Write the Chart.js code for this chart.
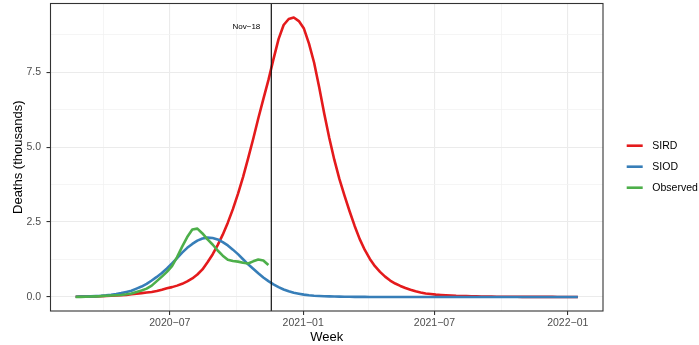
<!DOCTYPE html>
<html>
<head>
<meta charset="utf-8">
<script src="https://cdn.jsdelivr.net/npm/chart.js@4.4.1/dist/chart.umd.min.js"></script>
<style>
  html, body { margin: 0; padding: 0; background: #fff; }
  #wrap { width: 699px; height: 345px; }
</style>
</head>
<body>
<div id="wrap"><canvas id="deathsChart" width="699" height="345"></canvas></div>
<script>
// weekly series, deaths in thousands, first week 2020-02-22
const firstWeek = '2020-02-22';

const sird = [
  0.01, 0.012, 0.015, 0.018, 0.022, 0.027, 0.033, 0.04, 0.05, 0.06,
  0.07, 0.09, 0.11, 0.13, 0.15, 0.17, 0.2, 0.24, 0.29, 0.33,
  0.38, 0.44, 0.52, 0.62, 0.75, 0.92, 1.16, 1.42, 1.73, 2.08,
  2.48, 2.93, 3.44, 4.0, 4.62, 5.27, 5.95, 6.6, 7.23, 7.93,
  8.6, 9.07, 9.27, 9.32, 9.2, 8.95, 8.45, 7.82, 7.0, 6.12,
  5.3, 4.57, 3.93, 3.38, 2.86, 2.37, 1.93, 1.57, 1.27, 1.03,
  0.84, 0.68, 0.55, 0.45, 0.37, 0.3, 0.24, 0.19, 0.15, 0.12,
  0.1, 0.08, 0.07, 0.06, 0.05, 0.04, 0.035, 0.03, 0.025, 0.02,
  0.018, 0.015, 0.013, 0.011, 0.01, 0.009, 0.008, 0.007, 0.006, 0.006,
  0.005, 0.005, 0.004, 0.004, 0.004, 0.003, 0.003, 0.003, 0.003, 0.002
];

const siod = [
  0.01, 0.013, 0.017, 0.022, 0.03, 0.04, 0.055, 0.075, 0.1, 0.13,
  0.17, 0.21, 0.28, 0.35, 0.44, 0.55, 0.67, 0.8, 0.95, 1.12,
  1.3, 1.48, 1.64, 1.77, 1.88, 1.95, 1.98, 1.97, 1.92, 1.83,
  1.72, 1.58, 1.43, 1.26, 1.09, 0.94, 0.79, 0.65, 0.53, 0.42,
  0.33, 0.25, 0.19, 0.14, 0.11, 0.08, 0.06, 0.045, 0.035, 0.025,
  0.02, 0.015, 0.012, 0.01, 0.008, 0.006, 0.005, 0.004, 0.003, 0.003,
  0.002, 0.002, 0.002, 0.001, 0.001, 0.001, 0.001, 0.001, 0, 0,
  0, 0, 0, 0, 0, 0, 0, 0, 0, 0,
  0, 0, 0, 0, 0, 0, 0, 0, 0, 0,
  0, 0, 0, 0, 0, 0, 0, 0, 0, 0
];

const observed = [
  0, 0.005, 0.01, 0.015, 0.02, 0.03, 0.04, 0.05, 0.06, 0.07,
  0.09, 0.12, 0.17, 0.22, 0.28, 0.38, 0.53, 0.68, 0.84, 1.03,
  1.33, 1.68, 2.0, 2.25, 2.28, 2.12, 1.92, 1.75, 1.55, 1.38,
  1.24, 1.2, 1.18, 1.14, 1.12, 1.19, 1.25, 1.22, 1.07
];

const seriesNames = ['SIRD', 'SIOD', 'Observed'];
const seriesColors = ['#E41A1C', '#377EB8', '#4DAF4A'];

const xMajorTicks = ['2020-07-01', '2021-01-01', '2021-07-01', '2022-01-01'];
const yMajorTicks = [0, 2.5, 5, 7.5];

const cutoffDate = '2020-11-18';
const cutoffLabel = 'Nov\u221218';

// ---- helpers ----
const DAY = 864e5;
const t0 = Date.parse(firstWeek);
const weeks = sird.map((_, i) => t0 + i * 7 * DAY);

function toPoints(values) {
  return values.map((v, i) => ({ x: weeks[i], y: v }));
}

// ggplot-like 5% expansion
function expand(lo, hi) {
  const pad = (hi - lo) * 0.05;
  return [lo - pad, hi + pad];
}
const [xMin, xMax] = expand(weeks[0], weeks[weeks.length - 1]);
const allY = sird.concat(siod, observed);
const [yMin, yMax] = expand(Math.min(...allY), Math.max(...allY));

function withMinors(majors, lo, hi) {
  const out = majors.map(v => ({ value: v, minor: false }));
  const step = majors[1] - majors[0];
  const mids = [majors[0] - step / 2];
  for (let i = 0; i < majors.length - 1; i++) mids.push((majors[i] + majors[i + 1]) / 2);
  const lastStep = majors[majors.length - 1] - majors[majors.length - 2];
  mids.push(majors[majors.length - 1] + lastStep / 2);
  mids.filter(v => v >= lo && v <= hi).forEach(v => out.push({ value: v, minor: true }));
  return out.sort((a, b) => a.value - b.value);
}

const xTickObjs = withMinors(xMajorTicks.map(d => Date.parse(d)), xMin, xMax);
const yTickObjs = withMinors(yMajorTicks, yMin, yMax);

function fmtMonth(ts) {
  const d = new Date(ts);
  const m = String(d.getUTCMonth() + 1).padStart(2, '0');
  return d.getUTCFullYear() + '\u2212' + m;
}

const gridStyle = {
  color: ctx => (ctx.tick && ctx.tick.minor) ? '#F2F2F2' : '#EBEBEB',
  lineWidth: ctx => (ctx.tick && ctx.tick.minor) ? 0.8 : 1.1,
  tickColor: ctx => (ctx.tick && ctx.tick.minor) ? 'rgba(0,0,0,0)' : '#333333',
  tickWidth: 1.1,
  tickLength: 4,
  drawTicks: true
};

// border, cutoff line and legend
const extras = {
  id: 'extras',
  afterDatasetsDraw(chart) {
    const { ctx, chartArea: a, scales } = chart;
    const xc = scales.x.getPixelForValue(Date.parse(cutoffDate));
    ctx.save();
    ctx.strokeStyle = '#111111';
    ctx.lineWidth = 1.2;
    ctx.beginPath();
    ctx.moveTo(xc, a.top);
    ctx.lineTo(xc, a.bottom);
    ctx.stroke();

    ctx.fillStyle = '#000';
    ctx.font = '8px "Liberation Sans", Arial, sans-serif';
    ctx.textAlign = 'right';
    ctx.textBaseline = 'middle';
    ctx.fillText(cutoffLabel, xc - 11, scales.y.getPixelForValue(9.0));

    ctx.strokeStyle = '#333333';
    ctx.lineWidth = 1.1;
    ctx.strokeRect(a.left, a.top, a.right - a.left, a.bottom - a.top);
    ctx.restore();
  },
  afterDraw(chart) {
    const { ctx, chartArea: a } = chart;
    ctx.save();
    ctx.font = '10.5px "Liberation Sans", Arial, sans-serif';
    ctx.textAlign = 'left';
    ctx.textBaseline = 'middle';
    seriesNames.forEach((name, i) => {
      const y = 145.7 + i * 21;
      ctx.strokeStyle = seriesColors[i];
      ctx.lineWidth = 2.6;
      ctx.beginPath();
      ctx.moveTo(a.right + 23.7, y);
      ctx.lineTo(a.right + 39.7, y);
      ctx.stroke();
      ctx.fillStyle = '#000';
      ctx.fillText(name, a.right + 49.3, y + 0.5);
    });
    ctx.restore();
  }
};

const seriesData = [sird, siod, observed];

new Chart(document.getElementById('deathsChart').getContext('2d'), {
  type: 'line',
  data: {
    datasets: seriesNames.map((name, i) => ({
      label: name,
      data: toPoints(seriesData[i]),
      borderColor: seriesColors[i],
      backgroundColor: seriesColors[i],
      borderWidth: 2.6,
      pointRadius: 0,
      tension: 0,
      fill: false,
      borderCapStyle: 'butt',
      borderJoinStyle: 'round',
      order: seriesNames.length - i
    }))
  },
  options: {
    responsive: false,
    animation: false,
    layout: { padding: { left: 0, right: 96, top: 3.5, bottom: 0 } },
    plugins: {
      legend: { display: false },
      tooltip: { enabled: false }
    },
    scales: {
      x: {
        type: 'linear',
        min: xMin,
        max: xMax,
        afterBuildTicks: scale => { scale.ticks = xTickObjs.map(t => ({ ...t })); },
        afterFit: scale => {
          scale.height = 34;
          scale.paddingLeft = 0;
          scale.paddingRight = 0;
        },
        ticks: {
          autoSkip: false,
          maxRotation: 0,
          padding: 1.5,
          color: '#4D4D4D',
          font: { family: '"Liberation Sans", Arial, sans-serif', size: 10.5 },
          callback: (v, i, ticks) => ticks[i].minor ? '' : fmtMonth(v)
        },
        grid: gridStyle,
        border: { display: false },
        title: {
          display: true,
          text: 'Week',
          color: '#000',
          font: { family: '"Liberation Sans", Arial, sans-serif', size: 13 },
          padding: { top: 0, bottom: 0 }
        }
      },
      y: {
        type: 'linear',
        min: yMin,
        max: yMax,
        afterBuildTicks: scale => { scale.ticks = yTickObjs.map(t => ({ ...t })); },
        afterFit: scale => {
          scale.width = 50.5;
          scale.paddingTop = 0;
          scale.paddingBottom = 0;
        },
        ticks: {
          autoSkip: false,
          padding: 5.5,
          color: '#4D4D4D',
          font: { family: '"Liberation Sans", Arial, sans-serif', size: 10.5 },
          callback: (v, i, ticks) => ticks[i].minor ? '' : v.toFixed(1)
        },
        grid: gridStyle,
        border: { display: false },
        title: {
          display: true,
          text: 'Deaths (thousands)',
          color: '#000',
          font: { family: '"Liberation Sans", Arial, sans-serif', size: 13 },
          padding: { top: 10.7, bottom: 0 }
        }
      }
    }
  },
  plugins: [extras]
});
</script>
</body>
</html>
